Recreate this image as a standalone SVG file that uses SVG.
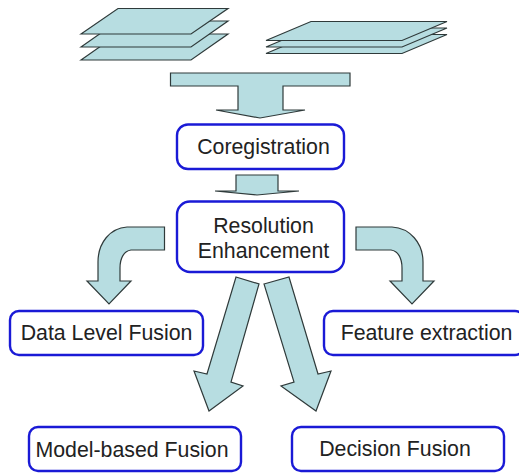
<svg xmlns="http://www.w3.org/2000/svg" width="519" height="473" viewBox="0 0 519 473">
<style>
.s{fill:#b7dde1;stroke:#2f3a3a;stroke-width:1.2;stroke-linejoin:miter}
.b{fill:#fff;stroke:#1a1ad6;stroke-width:2.4}
text{font-family:"Liberation Sans",Arial,sans-serif;font-size:21.3px;fill:#222;text-anchor:middle}
</style>
<rect width="519" height="473" fill="#fff"/>
<g id="stack-left">
<path class="s" d="M81 60L118 34H228L191 60Z"/>
<path class="s" d="M81 47L118 21H228L191 47Z"/>
<path class="s" d="M81 34L118 8.500H228L191 34Z"/>
</g>
<g id="stack-right">
<path class="s" d="M266 53.500L311 34.500H447L402 53.500Z"/>
<path class="s" d="M266 47L311 28H447L402 47Z"/>
<path class="s" d="M266 40.500L311 21.500H447L402 40.500Z"/>
</g>
<g id="connectors">
<path class="s" d="M170.500 73H350V86H283V110H305L260 118L216 110H238V86H170.500Z"/>
<path class="s" d="M236 175H278V191H299L257 195L215 191H236Z"/>
<path class="s" d="M164.500 227H127C110 228 98 243 98 262V281H87L109 304L131 281H120V268C120 258 124 251 131 250H164.500Z"/>
<path class="s" d="M356 227H392C410 228 423 243 423 262V281H434L412 304L390 281H402V268C402 258 398 251 391 250H356Z"/>
<path class="s" d="M236 277L259 284L231 382L243 386L209 411L194 371L207 374Z"/>
<path class="s" d="M264 284L289 277L318 374L331 371L316 411L281 386L294 382Z"/>
</g>
<g id="coregistration"><rect class="b" x="177" y="124.500" width="167" height="44.500" rx="11"/><text x="263.500" y="154">Coregistration</text></g>
<g id="resolution"><rect class="b" x="177" y="201.500" width="167" height="70.500" rx="13"/><text x="263.500" y="233">Resolution</text><text x="263.500" y="258">Enhancement</text></g>
<g id="data-level"><rect class="b" x="10" y="311" width="193" height="44" rx="9"/><text x="106.500" y="340">Data Level Fusion</text></g>
<g id="feature"><rect class="b" x="324" y="311" width="200" height="44" rx="9"/><text x="426.500" y="340">Feature extraction</text></g>
<g id="model"><rect class="b" x="29" y="427" width="212" height="44" rx="9"/><text x="132" y="457">Model-based Fusion</text></g>
<g id="decision"><rect class="b" x="292" y="427" width="212" height="44" rx="9"/><text x="395" y="456">Decision Fusion</text></g>
</svg>
